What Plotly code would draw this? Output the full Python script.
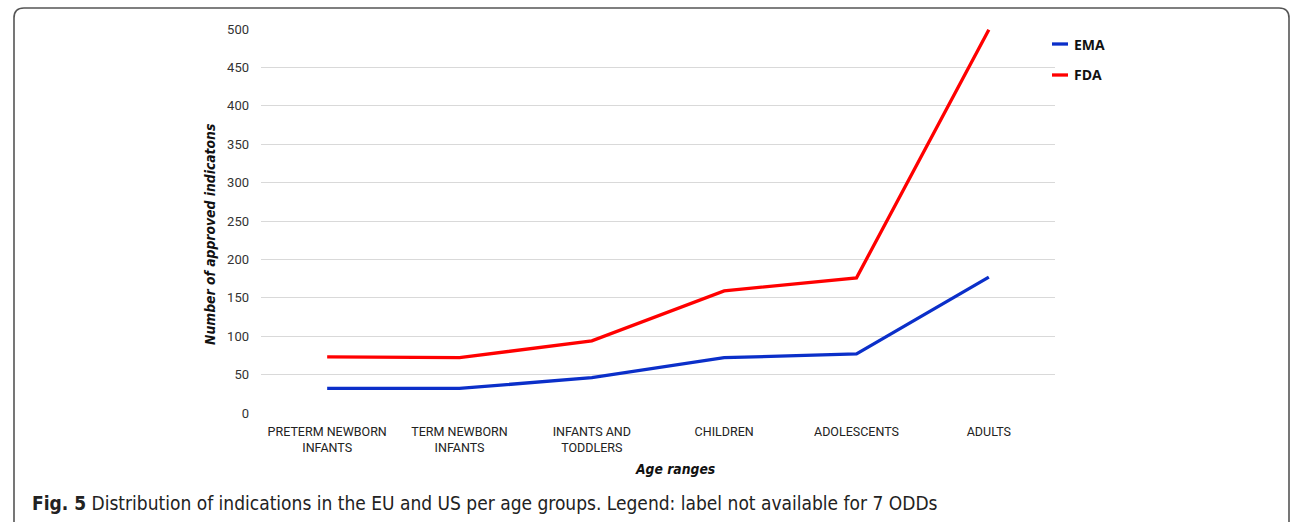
import plotly.graph_objects as go

categories = ["PRETERM NEWBORN<br>INFANTS", "TERM NEWBORN<br>INFANTS", "INFANTS AND<br>TODDLERS",
              "CHILDREN", "ADOLESCENTS", "ADULTS"]
ema = [32, 32, 46, 72, 77, 177]
fda = [73, 72, 94, 159, 176, 499]
y_ticks = [0, 50, 100, 150, 200, 250, 300, 350, 400, 450, 500]
series_names = ["EMA", "FDA"]
series_colors = ["#0b2fc9", "#ff0000"]

W, H = 1296, 522
L, R, T, B = 261, 241, 29, 109
pw, ph = W - L - R, H - T - B

def px(x):
    return (x - L) / pw

def py(y):
    return (H - B - y) / ph

FONT = "Open Sans"
CONDF = "DejaVu Sans Condensed, Open Sans"
TICKF = "Roboto"

fig = go.Figure()
for name, vals, col in zip(series_names, [ema, fda], series_colors):
    fig.add_trace(go.Scatter(x=categories, y=vals, mode="lines", name=name,
                             line=dict(color=col, width=3.3), showlegend=False))

fig.update_layout(
    width=W, height=H,
    margin=dict(l=L, r=R, t=T, b=B),
    paper_bgcolor="white", plot_bgcolor="white",
    font=dict(family=FONT, size=12.5, color="#333"),
    xaxis=dict(type="category", showgrid=False, zeroline=False, showline=False,
               ticks="", tickfont=dict(family=TICKF, size=12.5, color="#222"), range=[-0.5, 5.5],
               ticklabelstandoff=9),
    yaxis=dict(range=[0, 500], tickvals=y_ticks, showgrid=True, gridcolor="#d9d9d9",
               gridwidth=1, zeroline=False, showline=False, ticks="",
               tickfont=dict(family=TICKF, size=13, color="#333"), ticklabelstandoff=11),
)

# legend (manual, matching the short keys of the reference)
legend_y = [44, 75]
for name, col, yy in zip(series_names, series_colors, legend_y):
    fig.add_shape(type="line", xref="paper", yref="paper",
                  x0=px(1052), x1=px(1068), y0=py(yy), y1=py(yy),
                  line=dict(color=col, width=3.3))
    fig.add_annotation(text=f"<b>{name}</b>", xref="paper", yref="paper",
                       x=px(1072), y=py(yy), xanchor="left", yanchor="middle", showarrow=False,
                       font=dict(family=FONT, size=14, color="#111"))

fig.add_annotation(text="<b><i>Number of approved indicatons</i></b>", xref="paper", yref="paper",
                   x=px(210), y=py(235), xanchor="center", yanchor="middle", textangle=-90,
                   showarrow=False, font=dict(family=CONDF, size=13.8, color="#111"))
fig.add_annotation(text="<b><i>Age ranges</i></b>", xref="paper", yref="paper",
                   x=px(675), y=py(469), xanchor="center", yanchor="middle", showarrow=False,
                   font=dict(family=CONDF, size=13.8, color="#111"))
fig.add_annotation(text="<b>Fig. 5</b> Distribution of indications in the EU and US per age groups. Legend: label not available for 7 ODDs",
                   xref="paper", yref="paper", x=px(30), y=py(503), xanchor="left", yanchor="middle",
                   showarrow=False, font=dict(family=CONDF, size=19, color="#222"))

# rounded frame around the figure
x0, x1, y0, y1, r = 14, 1289, 8, 526, 10
path = (f"M {px(x0)},{py(y1)} L {px(x0)},{py(y0 + r)} "
        f"Q {px(x0)},{py(y0)} {px(x0 + r)},{py(y0)} "
        f"L {px(x1 - r)},{py(y0)} Q {px(x1)},{py(y0)} {px(x1)},{py(y0 + r)} "
        f"L {px(x1)},{py(y1)}")
fig.add_shape(type="path", path=path, xref="paper", yref="paper",
              line=dict(color="#555", width=1.6))

fig.write_html("out.html")
